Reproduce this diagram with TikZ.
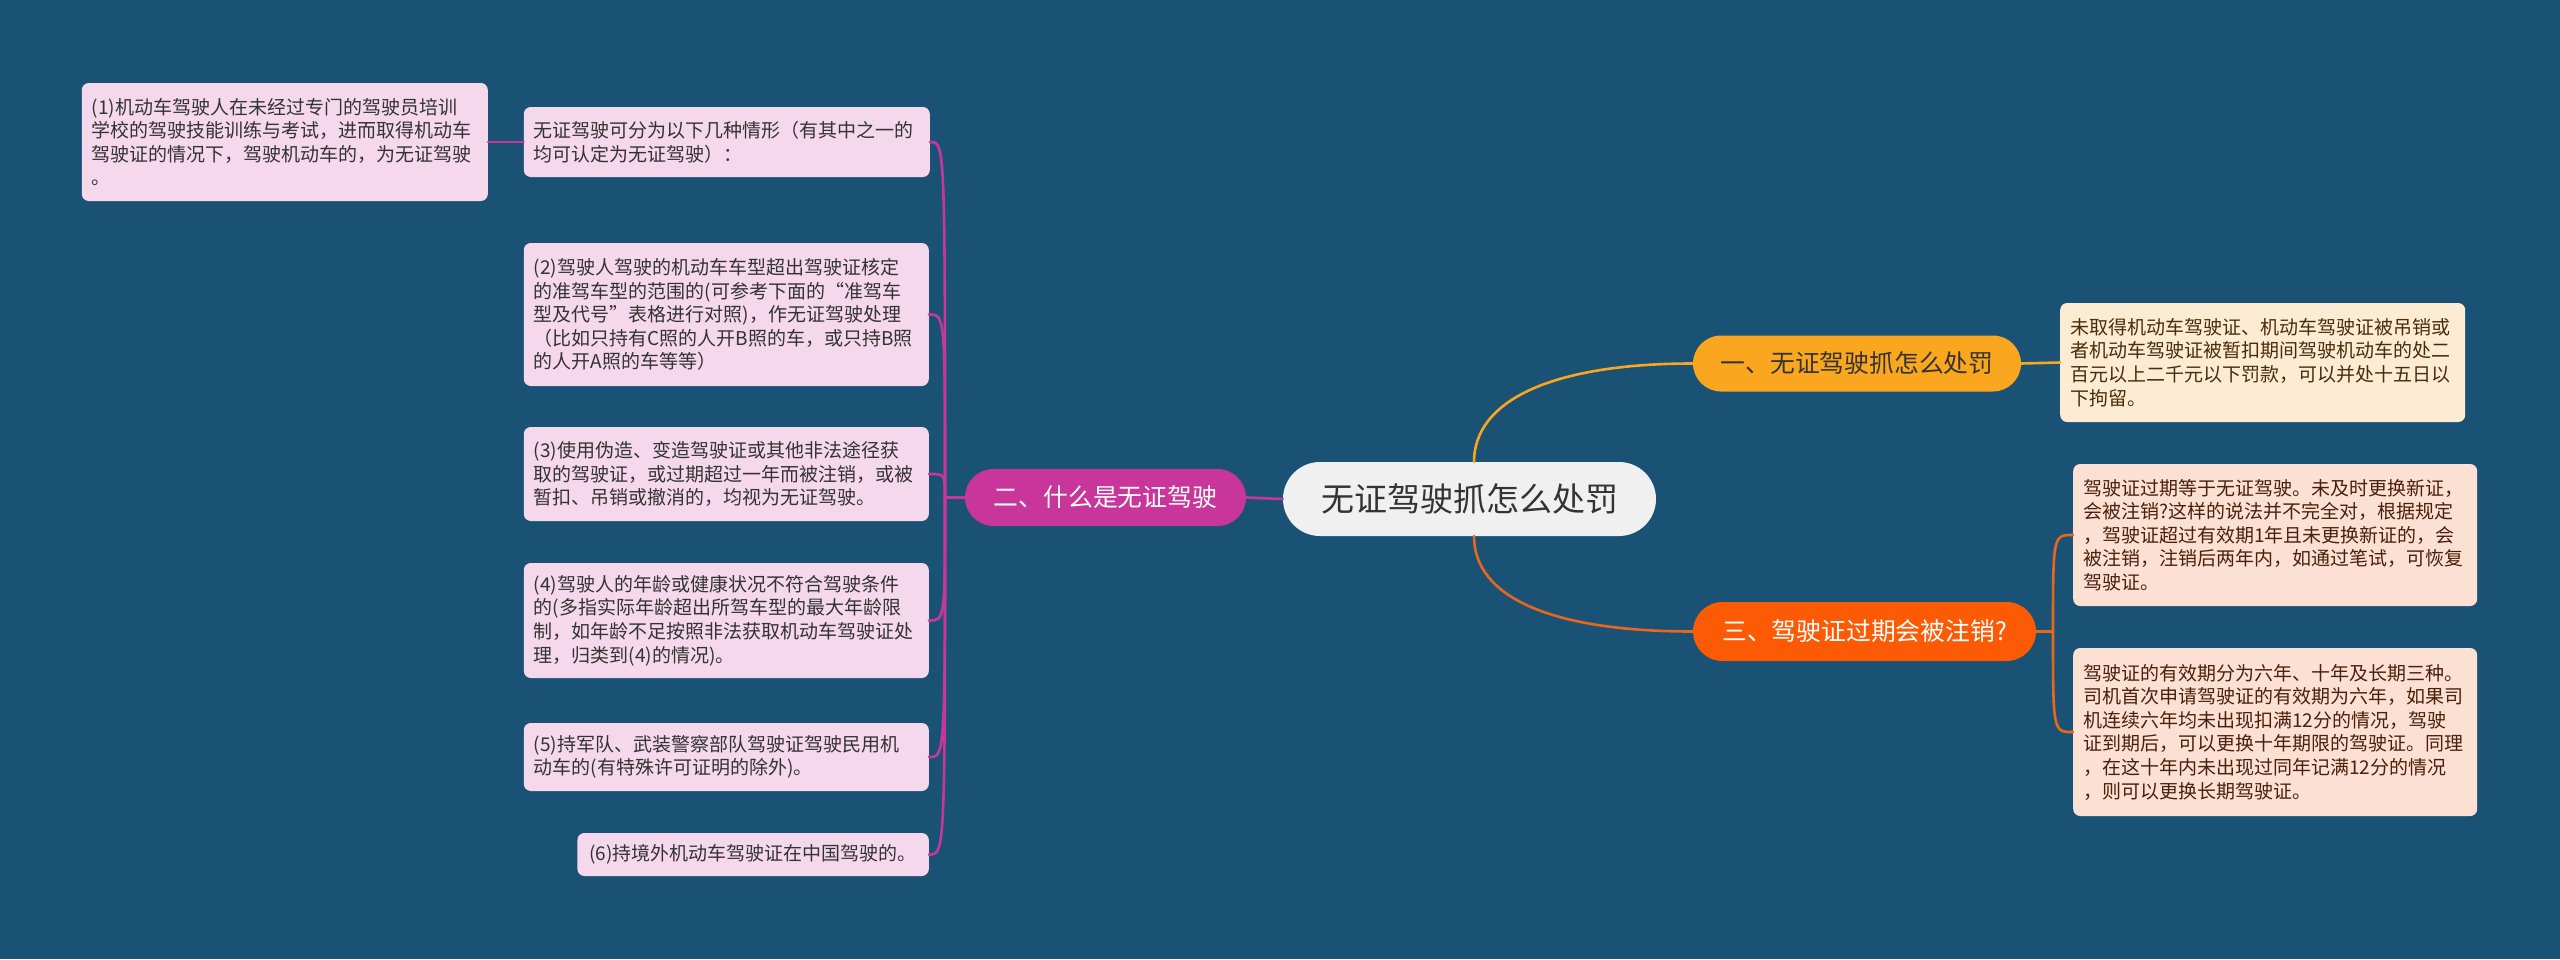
\documentclass[tikz,border=0pt]{standalone}
\usepackage{fontspec}
\setmainfont{Noto Sans CJK SC}
\usetikzlibrary{shapes.misc,calc}
\definecolor{bg}{HTML}{1A5276}
\definecolor{pinkfill}{HTML}{F5D8EB}
\definecolor{creamfill}{HTML}{FDEBD3}
\definecolor{peachfill}{HTML}{FCE0D3}
\definecolor{magc}{HTML}{C8369C}
\definecolor{yelc}{HTML}{FAA61E}
\definecolor{redc}{HTML}{FC5A04}
\definecolor{redline}{HTML}{E8661E}
\definecolor{centerfill}{HTML}{F0F0F0}
\definecolor{darktext}{HTML}{333333}
\definecolor{browntext}{HTML}{4A2C0C}
\definecolor{redbrown}{HTML}{4A200C}
\begin{document}
\begin{tikzpicture}[x=1pt,y=-1pt,
  leaf/.style={draw=none, rounded corners=7pt, align=left, inner xsep=10pt, inner ysep=0pt, font=\fontsize{19}{23.6}\selectfont},
  pinkleaf/.style={leaf, fill=pinkfill, text=darktext},
  creamleaf/.style={leaf, fill=creamfill, text=browntext},
  peachleaf/.style={leaf, fill=peachfill, text=redbrown},
  branch/.style={rounded rectangle, draw=none, inner sep=0pt, font=\fontsize{24.8}{30}\selectfont},
  magline/.style={draw=magc, line width=2.6pt, line cap=round},
  yline/.style={draw=yelc, line width=2.6pt, line cap=round},
  rline/.style={draw=redline, line width=2.6pt, line cap=round}]
\fill[bg] (0,0) rectangle (2560,959);
\useasboundingbox (0,0) rectangle (2560,959);

% central node
\node[rounded rectangle, fill=centerfill, text=darktext, minimum width=373pt, minimum height=74pt, inner sep=0pt, font=\fontsize{33}{40}\selectfont] (c) at (1469.5,499) {无证驾驶抓怎么处罚};
\coordinate (ctop) at (1474,462);
\coordinate (cbot) at (1474,536);

% main branches
\node[branch, fill=magc, text=white, minimum width=281pt, minimum height=57pt] (b2) at (1105.5,497.5) {二、什么是无证驾驶};
\node[branch, fill=yelc, text=darktext, minimum width=328pt, minimum height=56pt] (b1) at (1857,363.5) {一、无证驾驶抓怎么处罚};
\node[branch, fill=redc, text=white, minimum width=343pt, minimum height=59pt] (b3) at (1864.5,631.5) {三、驾驶证过期会被注销?};

% left leaves
\node[pinkleaf, text width=386pt, minimum height=70pt, anchor=east] (p0) at (930,142) {无证驾驶可分为以下几种情形（有其中之一的\\均可认定为无证驾驶）：};
\node[pinkleaf, text width=386pt, minimum height=118pt, anchor=east] (n1) at (488,142) {(1)机动车驾驶人在未经过专门的驾驶员培训\\学校的驾驶技能训练与考试，进而取得机动车\\驾驶证的情况下，驾驶机动车的，为无证驾驶\\。};
\node[pinkleaf, text width=385pt, minimum height=143pt, anchor=east] (n2) at (929,314.5) {(2)驾驶人驾驶的机动车车型超出驾驶证核定\\的准驾车型的范围的(可参考下面的“准驾车\\型及代号”表格进行对照)，作无证驾驶处理\\（比如只持有C照的人开B照的车，或只持B照\\的人开A照的车等等）};
\node[pinkleaf, text width=385pt, minimum height=94pt, anchor=east] (n3) at (929,474) {(3)使用伪造、变造驾驶证或其他非法途径获\\取的驾驶证，或过期超过一年而被注销，或被\\暂扣、吊销或撤消的，均视为无证驾驶。};
\node[pinkleaf, text width=385pt, minimum height=115pt, anchor=east] (n4) at (929,620.5) {(4)驾驶人的年龄或健康状况不符合驾驶条件\\的(多指实际年龄超出所驾车型的最大年龄限\\制，如年龄不足按照非法获取机动车驾驶证处\\理，归类到(4)的情况)。};
\node[pinkleaf, text width=385pt, minimum height=68pt, anchor=east] (n5) at (929,757) {(5)持军队、武装警察部队驾驶证驾驶民用机\\动车的(有特殊许可证明的除外)。};
\node[pinkleaf, inner xsep=12pt, minimum height=43pt, anchor=east] (n6) at (929,854.5) {(6)持境外机动车驾驶证在中国驾驶的。};

% right leaves
\node[creamleaf, text width=385pt, minimum height=119pt, anchor=west] (l1) at (2060,362.5) {未取得机动车驾驶证、机动车驾驶证被吊销或\\者机动车驾驶证被暂扣期间驾驶机动车的处二\\百元以上二千元以下罚款，可以并处十五日以\\下拘留。};
\node[peachleaf, text width=384pt, minimum height=142pt, anchor=west] (l31) at (2073,535) {驾驶证过期等于无证驾驶。未及时更换新证，\\会被注销?这样的说法并不完全对，根据规定\\，驾驶证超过有效期1年且未更换新证的，会\\被注销，注销后两年内，如通过笔试，可恢复\\驾驶证。};
\node[peachleaf, text width=384pt, minimum height=168pt, anchor=west] (l32) at (2073,732) {驾驶证的有效期分为六年、十年及长期三种。\\司机首次申请驾驶证的有效期为六年，如果司\\机连续六年均未出现扣满12分的情况，驾驶\\证到期后，可以更换十年期限的驾驶证。同理\\，在这十年内未出现过同年记满12分的情况\\，则可以更换长期驾驶证。};

% connectors
\draw[magline] (c.west) -- (b2.east);
\coordinate (bus2) at (945,497.5);
\draw[magline] (b2.west) -- (bus2);
\foreach \t in {p0,n2,n3,n4,n5,n6}{
  \draw[magline] (bus2) .. controls (bus2 |- \t.east) .. (\t.east);
}
\draw[magline] (n1.east) -- (p0.west);

\draw[yline] (ctop) .. controls ($(ctop)+(0,-62)$) and ($(b1.west)+(-140,0)$) .. (b1.west);
\draw[rline] (cbot) .. controls ($(cbot)+(0,62)$) and ($(b3.west)+(-140,0)$) .. (b3.west);
\draw[yline] (b1.east) -- (l1.west);
\coordinate (bus3) at (2053,631.5);
\draw[rline] (b3.east) -- (bus3);
\draw[rline] (bus3) .. controls (bus3 |- l31.west) .. (l31.west);
\draw[rline] (bus3) .. controls (bus3 |- l32.west) .. (l32.west);
\end{tikzpicture}
\end{document}
